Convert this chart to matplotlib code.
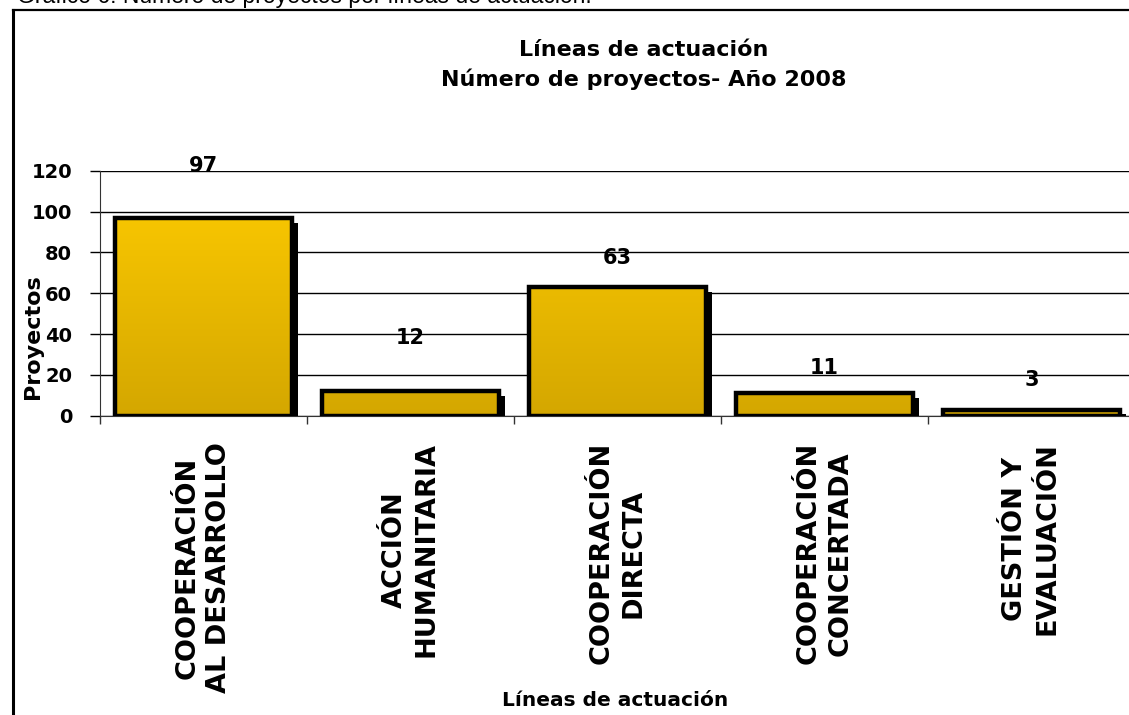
import matplotlib
matplotlib.use("Agg")
import matplotlib.pyplot as plt
import matplotlib.patheffects as pe
from matplotlib.lines import Line2D
import numpy as np

categorias = ["COOPERACIÓN\nAL DESARROLLO", "ACCIÓN\nHUMANITARIA", "COOPERACIÓN\nDIRECTA",
              "COOPERACIÓN\nCONCERTADA", "GESTIÓN Y\nEVALUACIÓN"]
proyectos = [97, 12, 63, 11, 3]
yticks = [0, 20, 40, 60, 80, 100, 120]

# desplazamiento (pt) de las etiquetas de valor sobre cada barra
label_offsets = [37, 38, 21, 18, 21]

plt.rcParams["font.family"] = ["DejaVu Sans"]

fig = plt.figure(figsize=(11.29, 7.15), dpi=100)
ax = fig.add_axes([100 / 1129, 1 - 415.7 / 715, 1035 / 1129, 245 / 715])

x = np.arange(len(proyectos))
ancho = 0.855

# gradiente amarillo de arriba a abajo
grad = np.linspace(0, 1, 256).reshape(-1, 1)
cmap = matplotlib.colors.LinearSegmentedColormap.from_list("oro", ["#ffcc00", "#d4a700"])

sombra = [pe.SimplePatchShadow(offset=(4.5, -3.5), shadow_rgbFace="black", alpha=1), pe.Normal()]
barras = ax.bar(x, proyectos, width=ancho, color="#f0c000", edgecolor="none", zorder=2,
                path_effects=sombra)
for b in barras:
    x0, w = b.get_x(), b.get_width()
    im = ax.imshow(grad, extent=[x0, x0 + w, 0, 120], aspect="auto", cmap=cmap,
                   origin="upper", zorder=2.5)
    im.set_clip_path(b)
ax.bar(x, proyectos, width=ancho, facecolor="none", edgecolor="black", linewidth=3.2, zorder=3)

for xi, v, off in zip(x, proyectos, label_offsets):
    ax.annotate(str(v), (xi, v), xytext=(0, off), textcoords="offset points",
                ha="center", va="center", fontsize=15, fontweight="bold", zorder=4)

ax.set_xlim(-0.5, len(proyectos) - 0.5)
ax.set_ylim(0, 120)
ax.set_yticks(yticks)
ax.set_yticklabels([str(t) for t in yticks], fontsize=14, fontweight="bold")
ax.yaxis.grid(True, color="black", linewidth=1)
ax.set_axisbelow(True)
ax.tick_params(axis="y", length=7, width=1, pad=13)

ax.set_xticks(x)
ax.set_xticklabels(categorias, rotation=90, fontsize=19.5, fontweight="bold",
                   ha="center", va="top", multialignment="center", linespacing=1.3)
ax.set_xticks(np.arange(len(proyectos) + 1) - 0.5, minor=True)
ax.tick_params(axis="x", which="major", length=0, pad=19)
ax.tick_params(axis="x", which="minor", length=6, width=1, color="#333333")

for s in ["top", "right"]:
    ax.spines[s].set_visible(False)
ax.spines["left"].set_color("#333333")
ax.spines["bottom"].set_color("#333333")

fig.text(644 / 1129, 1 - 50 / 715, "Líneas de actuación", ha="center", va="center",
         fontsize=16, fontweight="bold")
fig.text(644 / 1129, 1 - 79 / 715, "Número de proyectos- Año 2008", ha="center", va="center",
         fontsize=16, fontweight="bold")
fig.text(33 / 1129, 1 - 337 / 715, "Proyectos", rotation=90, ha="center", va="center",
         fontsize=16, fontweight="bold")
fig.text(615 / 1129, 1 - 700 / 715, "Líneas de actuación", ha="center", va="center",
         fontsize=14.5, fontweight="bold")

# encabezado cortado arriba y marco
fig.text(17 / 1129, 1 - 3 / 715, "Gráfico 6: Número de proyectos por líneas de actuación.",
         ha="left", va="baseline", fontsize=16.5, family="Liberation Sans")
fig.add_artist(Line2D([12.5 / 1129, 12.5 / 1129], [0, 1 - 10 / 715], color="black", lw=2.2,
                      transform=fig.transFigure))
fig.add_artist(Line2D([12.5 / 1129, 1], [1 - 10 / 715, 1 - 10 / 715], color="black", lw=1.6,
                      transform=fig.transFigure))

fig.savefig("out.png", dpi=100)
